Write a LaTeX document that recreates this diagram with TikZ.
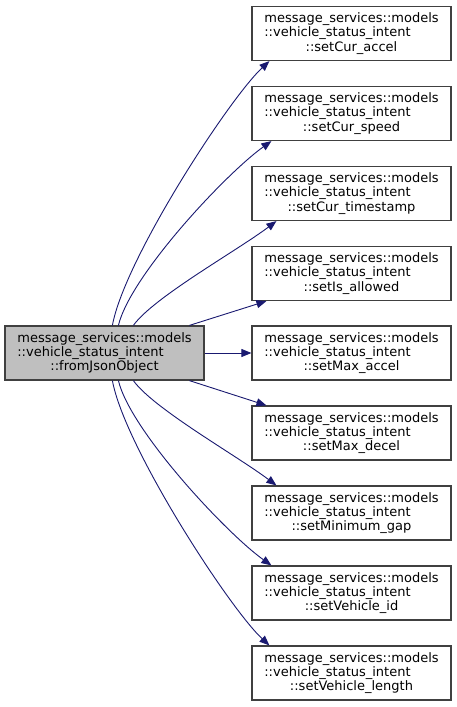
\documentclass[tikz,border=0pt]{standalone}
\usepackage{fontspec}
\setmainfont{DejaVu Sans}
\usetikzlibrary{arrows.meta}
\definecolor{edgecol}{HTML}{191970}
\definecolor{boxborder}{HTML}{404040}
\definecolor{grayfill}{HTML}{BFBFBF}
\newlength\lw
\newcommand{\fnfont}{\fontsize{13}{14.6}\selectfont}
\newcommand{\fnlabel}[1]{\begin{tabular}{@{}l@{}}message\_services::models\\[-0.6pt]::vehicle\_status\_intent\end{tabular}\\[-1pt]#1}
\tikzset{
  fnbox/.style={draw=boxborder, line width=1.2pt, fill=white, minimum width=199pt, minimum height=54pt,
    inner sep=0pt, align=center, font=\fnfont},
  curbox/.style={fnbox, fill=grayfill},
  edge/.style={draw=edgecol, line width=0.9pt, -{Triangle[length=10pt,width=8pt]}, fill=none}
}
\begin{document}
\begin{tikzpicture}[x=1pt,y=-1pt]
\useasboundingbox (0,0) rectangle (456,707);
\node[curbox] (L) at (104.5,353) {\fnlabel{::fromJsonObject}};
\node[fnbox] (R1) at (351.5,33.5) {\fnlabel{::setCur\_accel}};
\node[fnbox] (R2) at (351.5,113.5) {\fnlabel{::setCur\_speed}};
\node[fnbox] (R3) at (351.5,193.5) {\fnlabel{::setCur\_timestamp}};
\node[fnbox] (R4) at (351.5,273.5) {\fnlabel{::setIs\_allowed}};
\node[fnbox] (R5) at (351.5,353) {\fnlabel{::setMax\_accel}};
\node[fnbox] (R6) at (351.5,433) {\fnlabel{::setMax\_decel}};
\node[fnbox] (R7) at (351.5,513) {\fnlabel{::setMinimum\_gap}};
\node[fnbox] (R8) at (351.5,593) {\fnlabel{::setVehicle\_id}};
\node[fnbox] (R9) at (351.5,673) {\fnlabel{::setVehicle\_length}};
% upper edges
\draw[edge] ([xshift=108pt]L.north west) .. controls +(12,-66) and +(-40,37) .. ([xshift=18pt]R1.south west);
\draw[edge] ([xshift=114pt]L.north west) .. controls +(12,-50) and +(-45,32) .. ([xshift=20pt]R2.south west);
\draw[edge] ([xshift=129pt]L.north west) .. controls +(20,-28) and +(-40,30) .. ([xshift=25pt]R3.south west);
\draw[edge] ([xshift=185pt]L.north west) -- ([xshift=15pt]R4.south west);
\draw[edge] (L.east) -- (R5.west);
% lower edges
\draw[edge] ([xshift=185pt]L.south west) -- ([xshift=15pt]R6.north west);
\draw[edge] ([xshift=129pt]L.south west) .. controls +(20,28) and +(-40,-30) .. ([xshift=25pt]R7.north west);
\draw[edge] ([xshift=114pt]L.south west) .. controls +(12,50) and +(-45,-32) .. ([xshift=20pt]R8.north west);
\draw[edge] ([xshift=108pt]L.south west) .. controls +(12,66) and +(-40,-37) .. ([xshift=18pt]R9.north west);
\end{tikzpicture}
\end{document}
